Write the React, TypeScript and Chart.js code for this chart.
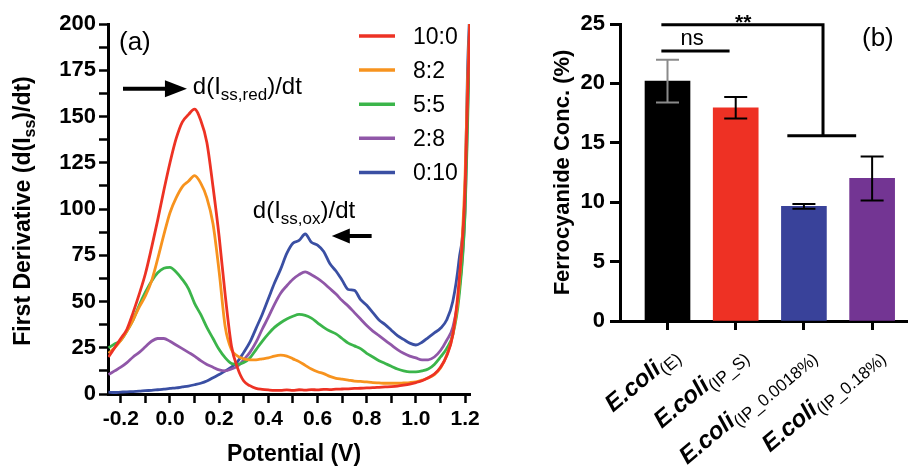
import React, { useEffect, useRef } from 'react';
import { Chart, registerables } from 'chart.js';

Chart.register(...registerables);

const FONT = '"Liberation Sans", Arial, Helvetica, sans-serif';

// ---------- Panel (a) data ----------
const potential = [
  -0.25, -0.225, -0.2, -0.175, -0.15, -0.125, -0.1, -0.075, -0.05, -0.025,
  0, 0.025, 0.05, 0.075, 0.1, 0.125, 0.15, 0.175, 0.2, 0.225,
  0.25, 0.275, 0.3, 0.325, 0.35, 0.375, 0.4, 0.425, 0.45, 0.475,
  0.5, 0.525, 0.55, 0.575, 0.6, 0.625, 0.65, 0.675, 0.7, 0.725,
  0.75, 0.775, 0.8, 0.825, 0.85, 0.875, 0.9, 0.925, 0.95, 0.975,
  1.0, 1.025, 1.05, 1.075, 1.1, 1.125, 1.15, 1.175, 1.2, 1.21, 1.22,
];

const ratio10_0 = [
  20, 25, 30, 35, 44, 54, 65, 79, 94, 110,
  125, 138, 147, 151, 154, 148, 136, 112, 85, 53,
  26, 14, 7, 4.5, 3, 2.5, 2.2, 2, 2, 2.2,
  2, 2.3, 2.1, 2.4, 2.2, 2.5, 2.4, 2.6, 2.7, 2.8,
  3, 3.1, 3.3, 3.4, 3.6, 3.8, 4, 4.3, 4.8, 5.4,
  6.2, 7.2, 8.8, 10.8, 14.5, 20.5, 32, 60, 110, 160, 205,
];
const ratio8_2 = [
  22, 25, 29, 34, 40, 47, 53, 61, 73, 86,
  98, 106, 112, 115, 118, 114, 106, 92, 66, 36,
  24, 20.5, 19, 18.5, 18.5, 19, 19.5, 20.5, 21, 20.5,
  19, 17.5, 15.5, 13.5, 12, 11, 9.5, 8.5, 8, 7.5,
  7, 6.8, 6.5, 6.2, 6, 5.8, 5.8, 5.8, 6, 6.2,
  6.6, 7.5, 8.6, 10.5, 14, 21, 32, 57, 118, 168, 205,
];
const ratio5_5 = [
  25, 27, 29, 34, 40, 48, 55, 61, 65.5, 68,
  68.5, 66, 62, 57, 49, 43, 36, 30, 24, 19.5,
  16.5, 16, 17, 19.5, 24, 28.5, 32.5, 36, 38.5, 40.5,
  42, 43, 42.5, 41, 38.5, 36, 34, 32.5, 30, 27.5,
  26, 24.5, 22, 20, 18, 16.5, 15, 13.5, 12.5, 12,
  12, 12.5, 13.5, 16, 20, 24.5, 32, 52, 98, 145, 200,
];
const ratio2_8 = [
  10.5, 12.5, 14.5, 17, 20, 22.5, 25.5, 28.5, 30, 30,
  28.5, 26.5, 24.5, 22.5, 20.5, 18, 16, 14.5, 13, 12.5,
  13.5, 15, 18.5, 22.5, 28, 35, 41.5, 48.5, 54.5, 58.5,
  62, 64.5, 66, 64.5, 62.5, 60, 57, 54, 50.5, 47.5,
  44, 40.5, 37, 34, 31.5, 29, 26.5, 24, 22, 20.5,
  19.5, 18.5, 18.5, 20, 23.5, 29, 36, 55, 100, 152, 202,
];
const ratio0_10 = [
  1, 0.8, 1, 1.2, 1.3, 1.5, 1.8, 2, 2.3, 2.6,
  3, 3.3, 3.8, 4.3, 5, 5.8, 7, 8.8, 10.5, 12.5,
  14.5, 17.5, 22.5, 28, 35.5, 43, 51.5, 60, 67.5, 76,
  81.5, 83, 86.5, 82, 80.5, 77, 70.5, 66.5, 61.5, 56.5,
  56, 51, 48, 44, 40, 37.5, 34.5, 31.5, 29.5, 27.5,
  26.5, 28, 30.5, 33, 35.5, 40, 50, 72, 110, 175, 210,
];

const ratioLabels = ['10:0', '8:2', '5:5', '2:8', '0:10'];
const ratioSeries = [ratio10_0, ratio8_2, ratio5_5, ratio2_8, ratio0_10];
const ratioColors = ['#ED3224', '#F7931E', '#3BB54A', '#9057A8', '#3A4FA3'];

const xTicksA = [-0.2, -0.1, 0, 0.1, 0.2, 0.3, 0.4, 0.5, 0.6, 0.7, 0.8, 0.9, 1.0, 1.1, 1.2];
const yTicksA = [0, 12.5, 25, 37.5, 50, 62.5, 75, 87.5, 100, 112.5, 125, 137.5, 150, 162.5, 175, 187.5, 200];

// annotation anchors (data units)
const redArrow = { from: -0.191, to: 0.069, y: 165 };
const redNote = { x: 0.093, y: 162 };
const oxArrow = { from: 0.82, to: 0.658, y: 85.4 };
const oxNote = { x: 0.337, y: 95 };

// ---------- Panel (b) data ----------
const strainSubs = ['(E)', '(IP_S)', '(IP_0.0018%)', '(IP_0.18%)'];
const ferroMeans = [20.2, 17.95, 9.65, 12.0];
const ferroErrors = [1.8, 0.9, 0.2, 1.85];
const barColors = ['#000000', '#EE3124', '#39429A', '#733593'];
const errColors = ['#8a8a8a', '#000000', '#000000', '#000000'];
const yTicksB = [0, 5, 10, 15, 20, 25];
const nsLine = { from: -0.09, to: 0.91, y: 22.73 };
const starBracket = { from: -0.09, corner: 2.28, top: 24.94, bottom: 15.6, left: 1.757, right: 2.766 };

type Seg = { t: string; font: string; dy?: number };

function drawRich(ctx: CanvasRenderingContext2D, segs: Seg[], x: number, y: number, align: string, angle = 0) {
  ctx.save();
  ctx.translate(x, y);
  ctx.rotate(angle);
  ctx.textAlign = 'left';
  ctx.textBaseline = 'alphabetic';
  let total = 0;
  const widths = segs.map((s) => {
    ctx.font = s.font;
    const w = ctx.measureText(s.t).width;
    total += w;
    return w;
  });
  let cx = align === 'left' ? 0 : align === 'center' ? -total / 2 : -total;
  segs.forEach((s, i) => {
    ctx.font = s.font;
    ctx.fillText(s.t, cx, s.dy || 0);
    cx += widths[i];
  });
  ctx.restore();
}

function drawArrow(ctx: CanvasRenderingContext2D, x1: number, x2: number, y: number, head: number, half: number, lw: number) {
  const dir = Math.sign(x2 - x1);
  ctx.save();
  ctx.strokeStyle = '#000';
  ctx.fillStyle = '#000';
  ctx.lineWidth = lw;
  ctx.beginPath();
  ctx.moveTo(x1, y);
  ctx.lineTo(x2 - dir * head * 0.8, y);
  ctx.stroke();
  ctx.beginPath();
  ctx.moveTo(x2, y);
  ctx.lineTo(x2 - dir * head, y - half);
  ctx.lineTo(x2 - dir * head, y + half);
  ctx.closePath();
  ctx.fill();
  ctx.restore();
}

const annotA = {
  id: 'annotA',
  afterDraw(chart: any) {
    const { ctx } = chart;
    const x = chart.scales.x;
    const y = chart.scales.y;
    ctx.save();
    ctx.fillStyle = '#000';
    drawRich(
      ctx,
      [
        { t: 'First Derivative (d(I', font: `bold 23px ${FONT}` },
        { t: 'ss', font: `bold 16px ${FONT}`, dy: 5 },
        { t: ')/dt)', font: `bold 23px ${FONT}` },
      ],
      30,
      211,
      'center',
      -Math.PI / 2
    );
    ctx.font = `bold 23px ${FONT}`;
    ctx.textAlign = 'center';
    ctx.textBaseline = 'alphabetic';
    ctx.fillText('Potential (V)', 294, 461);
    ctx.font = `26px ${FONT}`;
    ctx.textAlign = 'left';
    ctx.fillText('(a)', 119, 50);
    chart.data.datasets.forEach((ds: any, i: number) => {
      const ry = 36 + i * 34.1;
      ctx.strokeStyle = ds.borderColor;
      ctx.lineWidth = 3.5;
      ctx.beginPath();
      ctx.moveTo(359, ry);
      ctx.lineTo(395, ry);
      ctx.stroke();
      ctx.fillStyle = '#000';
      ctx.font = `23px ${FONT}`;
      ctx.textAlign = 'left';
      ctx.fillText(ds.label, 413, ry + 8);
    });
    drawArrow(ctx, x.getPixelForValue(redArrow.from), x.getPixelForValue(redArrow.to), y.getPixelForValue(redArrow.y), 22, 8.5, 4);
    drawRich(
      ctx,
      [
        { t: 'd(I', font: `24px ${FONT}` },
        { t: 'ss,red', font: `17px ${FONT}`, dy: 6 },
        { t: ')/dt', font: `24px ${FONT}` },
      ],
      x.getPixelForValue(redNote.x),
      y.getPixelForValue(redNote.y),
      'left'
    );
    drawArrow(ctx, x.getPixelForValue(oxArrow.from), x.getPixelForValue(oxArrow.to), y.getPixelForValue(oxArrow.y), 18, 7.5, 4);
    drawRich(
      ctx,
      [
        { t: 'd(I', font: `24px ${FONT}` },
        { t: 'ss,ox', font: `17px ${FONT}`, dy: 6 },
        { t: ')/dt', font: `24px ${FONT}` },
      ],
      x.getPixelForValue(oxNote.x),
      y.getPixelForValue(oxNote.y),
      'left'
    );
    ctx.restore();
  },
};

const LABEL_ANGLE = (-40 * Math.PI) / 180;

const annotB = {
  id: 'annotB',
  afterDatasetsDraw(chart: any) {
    const { ctx } = chart;
    const x = chart.scales.x;
    const y = chart.scales.y;
    ctx.save();
    ferroMeans.forEach((m, i) => {
      const px = x.getPixelForValue(i);
      const top = y.getPixelForValue(m + ferroErrors[i]);
      const bot = y.getPixelForValue(m - ferroErrors[i]);
      ctx.strokeStyle = errColors[i];
      ctx.lineWidth = 2;
      ctx.beginPath();
      ctx.moveTo(px, top);
      ctx.lineTo(px, bot);
      ctx.moveTo(px - 11.5, top);
      ctx.lineTo(px + 11.5, top);
      ctx.moveTo(px - 11.5, bot);
      ctx.lineTo(px + 11.5, bot);
      ctx.stroke();
    });
    ctx.strokeStyle = '#000';
    ctx.lineWidth = 3;
    ctx.beginPath();
    ctx.moveTo(x.getPixelForValue(nsLine.from), y.getPixelForValue(nsLine.y));
    ctx.lineTo(x.getPixelForValue(nsLine.to), y.getPixelForValue(nsLine.y));
    ctx.moveTo(x.getPixelForValue(starBracket.from), y.getPixelForValue(starBracket.top));
    ctx.lineTo(x.getPixelForValue(starBracket.corner), y.getPixelForValue(starBracket.top));
    ctx.lineTo(x.getPixelForValue(starBracket.corner), y.getPixelForValue(starBracket.bottom));
    ctx.moveTo(x.getPixelForValue(starBracket.left), y.getPixelForValue(starBracket.bottom));
    ctx.lineTo(x.getPixelForValue(starBracket.right), y.getPixelForValue(starBracket.bottom));
    ctx.stroke();
    ctx.fillStyle = '#000';
    ctx.textBaseline = 'alphabetic';
    ctx.textAlign = 'center';
    ctx.font = `22px ${FONT}`;
    ctx.fillText('ns', x.getPixelForValue((nsLine.from + nsLine.to) / 2 - 0.05), y.getPixelForValue(nsLine.y) - 6);
    ctx.font = `bold 21px ${FONT}`;
    ctx.fillText('**', x.getPixelForValue(1.11), y.getPixelForValue(starBracket.top) + 4);
    strainSubs.forEach((sub, i) => {
      const px = x.getPixelForValue(i);
      drawRich(
        ctx,
        [
          { t: 'E.coli', font: `italic bold 24px ${FONT}` },
          { t: sub, font: `17px ${FONT}`, dy: 5 },
        ],
        px + 12,
        y.bottom + 36,
        'right',
        LABEL_ANGLE
      );
    });
    drawRich(ctx, [{ t: 'Ferrocyanide Conc. (%)', font: `bold 22px ${FONT}` }], 79, (y.top + y.bottom) / 2, 'center', -Math.PI / 2);
    ctx.font = `26px ${FONT}`;
    ctx.textAlign = 'left';
    ctx.fillText('(b)', 372, 46);
    ctx.restore();
  },
};

export default function App() {
  const refA = useRef<HTMLCanvasElement>(null);
  const refB = useRef<HTMLCanvasElement>(null);

  useEffect(() => {
    const tickFont = (size: number) => ({ family: FONT, size, weight: 'bold' as const });
    const chartA = new Chart(refA.current as HTMLCanvasElement, {
      type: 'line',
      data: {
        datasets: ratioSeries.map((s, i) => ({
          label: ratioLabels[i],
          data: s.map((v, j) => ({ x: potential[j], y: v })),
          borderColor: ratioColors[i],
          backgroundColor: ratioColors[i],
          borderWidth: 2.8,
          pointRadius: 0,
          fill: false,
          cubicInterpolationMode: 'monotone',
          clip: 0,
        })),
      },
      options: {
        responsive: false,
        animation: false,
        events: [],
        layout: { padding: { left: 0, right: 20, top: 24, bottom: 0 } },
        plugins: { legend: { display: false }, tooltip: { enabled: false } },
        scales: {
          x: {
            type: 'linear',
            offset: false,
            min: -0.252,
            max: 1.22,
            afterBuildTicks: (s: any) => {
              s.ticks = xTicksA.map((v) => ({ value: v }));
            },
            afterFit: (s: any) => {
              s.height = 77;
            },
            ticks: {
              autoSkip: false,
              maxRotation: 0,
              padding: 4,
              color: '#000',
              font: tickFont(21),
              callback: (v: any, i: number) => (i % 2 === 0 ? Number(v).toFixed(1) : ''),
            },
            grid: { offset: false, drawOnChartArea: false, drawTicks: true, tickLength: 9, tickWidth: 2.5, tickColor: '#000' },
            border: { display: true, color: '#000', width: 3 },
          },
          y: {
            type: 'linear',
            min: 0,
            max: 200,
            afterBuildTicks: (s: any) => {
              s.ticks = yTicksA.map((v) => ({ value: v }));
            },
            afterFit: (s: any) => {
              s.width = 108;
            },
            ticks: {
              autoSkip: false,
              padding: 3,
              color: '#000',
              font: tickFont(22),
              callback: (v: any) => (Number(v) % 25 === 0 ? String(v) : ''),
            },
            grid: { drawOnChartArea: false, drawTicks: true, tickLength: 9, tickWidth: 2.5, tickColor: '#000' },
            border: { display: true, color: '#000', width: 3 },
          },
        },
      } as any,
      plugins: [annotA],
    } as any);

    const chartB = new Chart(refB.current as HTMLCanvasElement, {
      type: 'bar',
      data: {
        datasets: [
          {
            data: ferroMeans.map((m, i) => ({ x: i, y: m })),
            backgroundColor: barColors,
            borderWidth: 0,
            barThickness: 45,
          },
        ],
      },
      options: {
        responsive: false,
        animation: false,
        events: [],
        layout: { padding: { left: 0, right: 0, top: 24, bottom: 0 } },
        plugins: { legend: { display: false }, tooltip: { enabled: false } },
        scales: {
          x: {
            type: 'linear',
            offset: false,
            min: -0.6965,
            max: 3.526,
            afterBuildTicks: (s: any) => {
              s.ticks = [0, 1, 2, 3].map((v) => ({ value: v }));
            },
            afterFit: (s: any) => {
              s.height = 150;
            },
            ticks: { autoSkip: false, maxRotation: 0, callback: () => '' },
            grid: { offset: false, drawOnChartArea: false, drawTicks: true, tickLength: 9, tickWidth: 3, tickColor: '#000' },
            border: { display: true, color: '#000', width: 3 },
          },
          y: {
            type: 'linear',
            min: 0,
            max: 25,
            afterBuildTicks: (s: any) => {
              s.ticks = yTicksB.map((v) => ({ value: v }));
            },
            afterFit: (s: any) => {
              s.width = 130;
            },
            ticks: { padding: 5, color: '#000', font: tickFont(22) },
            grid: { drawOnChartArea: false, drawTicks: true, tickLength: 10, tickWidth: 3, tickColor: '#000' },
            border: { display: true, color: '#000', width: 3 },
          },
        },
      } as any,
      plugins: [annotB],
    } as any);

    return () => {
      chartA.destroy();
      chartB.destroy();
    };
  }, []);

  return (
    <div style={{ position: 'fixed', left: 0, top: 0, width: 908, height: 471, background: '#fff', overflow: 'hidden' }}>
      <canvas ref={refA} width={490} height={471} style={{ position: 'absolute', left: 0, top: 0 }} />
      <canvas ref={refB} width={418} height={471} style={{ position: 'absolute', left: 490, top: 0 }} />
    </div>
  );
}
